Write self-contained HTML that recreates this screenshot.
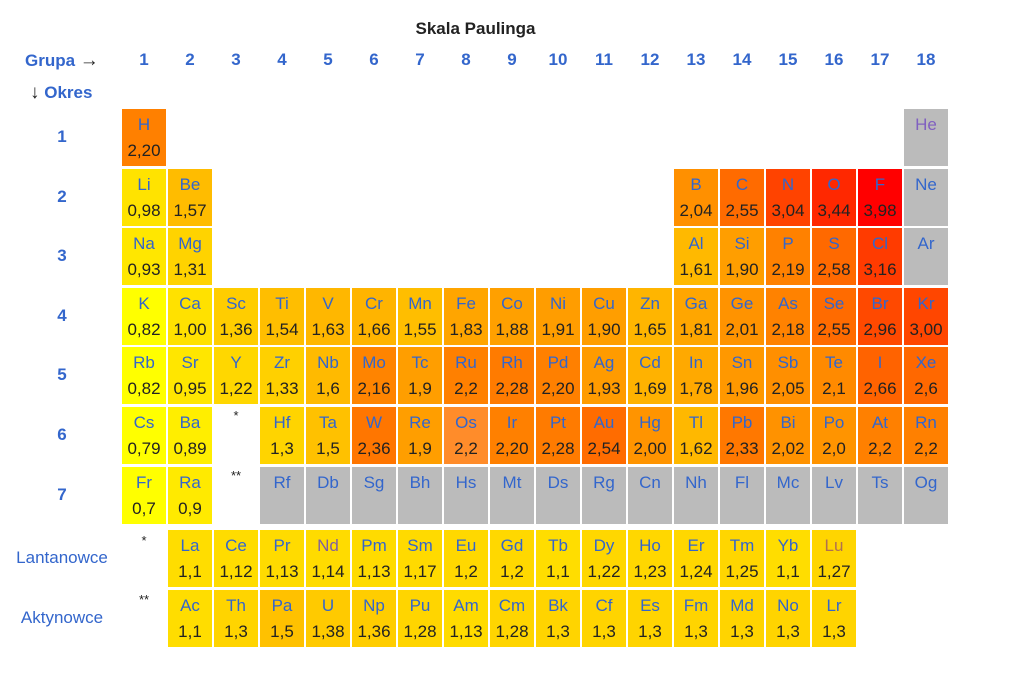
<!DOCTYPE html>
<html><head><meta charset="utf-8">
<style>
body{margin:0;background:#fff;font-family:"Liberation Sans",Arial,sans-serif;}
#wrap{position:relative;width:1017px;height:685px;overflow:hidden;}
.cell{position:absolute;width:44px;height:57px;}
.sym{position:absolute;left:0;width:44px;top:6px;text-align:center;font-size:17px;color:#3366CC;}
.val{position:absolute;left:0;width:44px;top:32px;text-align:center;font-size:17px;color:#222;}
.lbl{position:absolute;font-size:17px;color:#3366CC;}
.b{font-weight:bold;}
</style></head><body>
<div id="wrap">
<div class="lbl b" style="left:0;width:951px;top:19px;text-align:center;color:#222;font-size:17px;">Skala Paulinga</div>
<div class="lbl b" style="left:25px;top:50px;">Grupa <span style="color:#222;font-weight:normal;font-size:19px">→</span></div>
<div class="lbl b" style="left:30px;top:82px;"><span style="color:#222;font-weight:normal;font-size:19px">↓</span> Okres</div>
</div>
<script>
const periods=[1,2,3,4,5,6,7];
const groups=[1,2,3,4,5,6,7,8,9,10,11,12,13,14,15,16,17,18];
const p1Sym=["H",null,null,null,null,null,null,null,null,null,null,null,null,null,null,null,null,"He"];
const p1Val=["2,20",null,null,null,null,null,null,null,null,null,null,null,null,null,null,null,null,""];
const p2Sym=["Li","Be",null,null,null,null,null,null,null,null,null,null,"B","C","N","O","F","Ne"];
const p2Val=["0,98","1,57",null,null,null,null,null,null,null,null,null,null,"2,04","2,55","3,04","3,44","3,98",""];
const p3Sym=["Na","Mg",null,null,null,null,null,null,null,null,null,null,"Al","Si","P","S","Cl","Ar"];
const p3Val=["0,93","1,31",null,null,null,null,null,null,null,null,null,null,"1,61","1,90","2,19","2,58","3,16",""];
const p4Sym=["K","Ca","Sc","Ti","V","Cr","Mn","Fe","Co","Ni","Cu","Zn","Ga","Ge","As","Se","Br","Kr"];
const p4Val=["0,82","1,00","1,36","1,54","1,63","1,66","1,55","1,83","1,88","1,91","1,90","1,65","1,81","2,01","2,18","2,55","2,96","3,00"];
const p5Sym=["Rb","Sr","Y","Zr","Nb","Mo","Tc","Ru","Rh","Pd","Ag","Cd","In","Sn","Sb","Te","I","Xe"];
const p5Val=["0,82","0,95","1,22","1,33","1,6","2,16","1,9","2,2","2,28","2,20","1,93","1,69","1,78","1,96","2,05","2,1","2,66","2,6"];
const p6Sym=["Cs","Ba","*","Hf","Ta","W","Re","Os","Ir","Pt","Au","Hg","Tl","Pb","Bi","Po","At","Rn"];
const p6Val=["0,79","0,89",null,"1,3","1,5","2,36","1,9","2,2","2,20","2,28","2,54","2,00","1,62","2,33","2,02","2,0","2,2","2,2"];
const p7Sym=["Fr","Ra","**","Rf","Db","Sg","Bh","Hs","Mt","Ds","Rg","Cn","Nh","Fl","Mc","Lv","Ts","Og"];
const p7Val=["0,7","0,9",null,"","","","","","","","","","","","","","",""];
const lanSym=["La","Ce","Pr","Nd","Pm","Sm","Eu","Gd","Tb","Dy","Ho","Er","Tm","Yb","Lu"];
const lanVal=["1,1","1,12","1,13","1,14","1,13","1,17","1,2","1,2","1,1","1,22","1,23","1,24","1,25","1,1","1,27"];
const actSym=["Ac","Th","Pa","U","Np","Pu","Am","Cm","Bk","Cf","Es","Fm","Md","No","Lr"];
const actVal=["1,1","1,3","1,5","1,38","1,36","1,28","1,13","1,28","1,3","1,3","1,3","1,3","1,3","1,3","1,3"];
const rowSyms=[p1Sym,p2Sym,p3Sym,p4Sym,p5Sym,p6Sym,p7Sym];
const rowVals=[p1Val,p2Val,p3Val,p4Val,p5Val,p6Val,p7Val];

const W=document.getElementById('wrap');
function xCol(g){return 144+(g-1)*46;}
function yRow(r){return 109+(r-1)*59.6;}
const stops=[[0.7,255],[0.85,255],[0.9,234],[1.0,225],[1.3,212],[1.4,200],[1.6,186],[1.9,158],[2.2,128],[2.6,104],[3.0,70],[3.44,40],[3.98,0]];
function colorFor(v){
  let g=stops[stops.length-1][1];
  for(let i=0;i<stops.length-1;i++){const a=stops[i],b=stops[i+1];
    if(v<=a[0]){g=a[1];break;}
    if(v<=b[0]){g=a[1]+(b[1]-a[1])*(v-a[0])/(b[0]-a[0]);break;}}
  return 'rgb(255,'+Math.round(g)+',0)';
}
function addCell(cx,top,sym,val){
  const d=document.createElement('div');d.className='cell';
  
  
  d.style.left=(cx-22)+'px';d.style.top=top+'px';
  d.style.background=(val===''||val==null)?'#BBBBBB':colorFor(parseFloat(val.replace(',','.')));
  if(sym==='Os')d.style.background='#FF8C2A';
  const s=document.createElement('div');s.className='sym';s.textContent=sym;
  
  
  if(sym==='He')s.style.color='#8060C0';
  if(sym==='Nd')s.style.color='#8060A0';
  if(sym==='Lu')s.style.color='#B07050';
  d.appendChild(s);
  if(val){const v=document.createElement('div');v.className='val';v.textContent=val;
    
    
    d.appendChild(v);}
  W.appendChild(d);
}
function addText(txt,cx,cy,name,cls,extra){
  const t=document.createElement('div');t.className='lbl '+(cls||'');t.textContent=txt;
  
  
  t.style.left=(cx-60)+'px';t.style.width='120px';t.style.textAlign='center';t.style.top=(cy-10)+'px';
  if(extra)Object.assign(t.style,extra);
  W.appendChild(t);
}
groups.forEach(g=>addText(String(g),xCol(g),60,'group-label-'+g,'b'));
periods.forEach((p,i)=>{
  addText(String(p),62,yRow(p)+28,'period-label-'+p,'b');
  rowSyms[i].forEach((s,j)=>{
    if(s==null)return;
    if(s==='*'||s==='**'){addText(s,xCol(j+1),yRow(p)+11,'series-marker','',{color:'#222',fontSize:'13px'});return;}
    addCell(xCol(j+1),Math.round(yRow(p)),s,rowVals[i][j]);
  });
});
addText('Lantanowce',62,558,'lanthanides-label');
addText('Aktynowce',62,618,'actinides-label');
addText('*',144,543,'lanthanide-marker','',{color:'#222',fontSize:'13px'});
addText('**',144,602,'actinide-marker','',{color:'#222',fontSize:'13px'});
lanSym.forEach((s,j)=>addCell(xCol(j+2),530,s,lanVal[j]));
actSym.forEach((s,j)=>addCell(xCol(j+2),590,s,actVal[j]));
</script>
</body></html>
